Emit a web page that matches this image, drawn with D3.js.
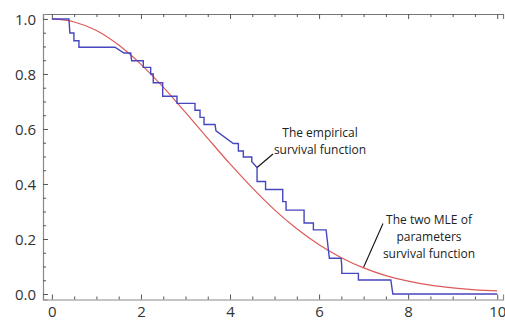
<!DOCTYPE html>
<html>
<head>
<meta charset="utf-8">
<script src="https://cdn.jsdelivr.net/npm/d3@7"></script>
<style>
  html, body { margin: 0; padding: 0; background: #fff; }
  svg { display: block; }
  text { font-family: "Open Sans", sans-serif; }
</style>
</head>
<body>
<svg id="chart" width="505" height="322"></svg>
<script>
// Empirical survival function (polyline vertices)
const empTime = [0, 0.382, 0.404, 0.494, 0.494, 0.607, 0.607, 1.416, 1.618, 1.769, 1.791, 2.052, 2.052, 2.218, 2.218, 2.276, 2.276, 2.488, 2.488, 2.809, 2.809, 3.213, 3.213, 3.326, 3.326, 3.416, 3.416, 3.663, 3.685, 4.074, 4.187, 4.187, 4.299, 4.299, 4.488, 4.488, 4.607, 4.607, 4.798, 4.798, 5.184, 5.184, 5.258, 5.258, 5.663, 5.663, 5.872, 5.872, 6.157, 6.231, 6.494, 6.510, 6.510, 6.883, 6.883, 7.611, 7.656, 10.0];
const empSurv = [1.0, 1.0, 0.949, 0.949, 0.921, 0.921, 0.897, 0.897, 0.876, 0.876, 0.848, 0.848, 0.824, 0.824, 0.800, 0.800, 0.768, 0.768, 0.719, 0.719, 0.693, 0.693, 0.668, 0.668, 0.642, 0.642, 0.616, 0.616, 0.593, 0.547, 0.547, 0.520, 0.520, 0.498, 0.498, 0.481, 0.460, 0.409, 0.409, 0.380, 0.380, 0.336, 0.336, 0.305, 0.305, 0.258, 0.258, 0.233, 0.233, 0.130, 0.130, 0.099, 0.075, 0.075, 0.051, 0.051, 0.0, 0.0];

// Fitted (two-parameter MLE) survival function, read at half-unit steps
const fitTime = [0, 0.5, 1, 1.5, 2, 2.5, 3, 3.5, 4, 4.5, 5, 5.5, 6, 6.5, 7, 7.5, 8, 8.5, 9, 9.5, 10];
const fitSurv = [1.0, 0.989, 0.958, 0.905, 0.835, 0.752, 0.660, 0.566, 0.473, 0.386, 0.306, 0.237, 0.179, 0.132, 0.095, 0.067, 0.047, 0.032, 0.022, 0.015, 0.011];

// Axis ticks
const xMajor = [0, 2, 4, 6, 8, 10];
const xMinor = [0.5, 1, 1.5, 2.5, 3, 3.5, 4.5, 5, 5.5, 6.5, 7, 7.5, 8.5, 9, 9.5];
const yMajor = [0, 0.2, 0.4, 0.6, 0.8, 1.0];
const yMinor = [0.05, 0.1, 0.15, 0.25, 0.3, 0.35, 0.45, 0.5, 0.55, 0.65, 0.7, 0.75, 0.85, 0.9, 0.95];

// Plot range (with padding like the original)
const xRange = [-0.2, 10.13];
const yRange = [-0.02, 1.018];

// Annotations
const annEmp = { lines: ["The empirical", "survival function"], t: 4.607, s: 0.46 };
const annFit = { lines: ["The two MLE of", "parameters", "survival function"], t: 7.0, s: 0.097 };

const svg = d3.select("#chart");
const x = d3.scaleLinear().domain(xRange).range([43, 503]);
const y = d3.scaleLinear().domain(yRange).range([299.5, 14]);

const axisColor = "#8a8a8a";
const labelColor = "#333";

// bottom axis
const gx = svg.append("g").attr("transform", `translate(0,${y(yRange[0])})`);
gx.call(d3.axisBottom(x).tickValues(xMajor).tickSize(-5).tickPadding(7).tickFormat(d3.format("d")));
const gxm = svg.append("g").attr("transform", `translate(0,${y(yRange[0])})`);
gxm.call(d3.axisBottom(x).tickValues(xMinor).tickSize(-3).tickFormat(""));
gxm.select(".domain").remove();

// top frame
const gt = svg.append("g").attr("transform", `translate(0,${y(yRange[1])})`);
gt.call(d3.axisTop(x).tickValues(xMajor).tickSize(-5).tickFormat(""));
const gtm = svg.append("g").attr("transform", `translate(0,${y(yRange[1])})`);
gtm.call(d3.axisTop(x).tickValues(xMinor).tickSize(-3).tickFormat(""));
gtm.select(".domain").remove();

// left axis
const gy = svg.append("g").attr("transform", `translate(${x(xRange[0])},0)`);
gy.call(d3.axisLeft(y).tickValues(yMajor).tickSize(-5).tickPadding(7).tickFormat(d3.format(".1f")));
const gym = svg.append("g").attr("transform", `translate(${x(xRange[0])},0)`);
gym.call(d3.axisLeft(y).tickValues(yMinor).tickSize(-3).tickFormat(""));
gym.select(".domain").remove();

svg.selectAll(".domain").attr("stroke", axisColor).attr("stroke-width", 1.2);
svg.selectAll(".tick line").attr("stroke", "#555").attr("stroke-width", 1);
svg.selectAll(".tick text").attr("fill", labelColor).style("font-size", "15px").style("font-family", "'Open Sans', sans-serif");
gt.select(".domain").attr("stroke", "#777");
gy.selectAll(".tick text").attr("dy", "0.36em");

// fitted curve
const fitLine = d3.line().x((d, i) => x(fitTime[i])).y((d, i) => y(fitSurv[i])).curve(d3.curveMonotoneX);
svg.append("path").datum(fitSurv).attr("d", fitLine)
  .attr("fill", "none").attr("stroke", "#dc5a5a").attr("stroke-width", 1.2);

// empirical curve
const empLine = d3.line().x((d, i) => x(empTime[i])).y((d, i) => y(empSurv[i]));
svg.append("path").datum(empSurv).attr("d", empLine)
  .attr("fill", "none").attr("stroke", "#4646c0").attr("stroke-width", 1.4)
  .attr("stroke-linejoin", "miter");

// annotations
function annotate(a, tx, ty, lx, ly, lh) {
  svg.append("line")
    .attr("x1", x(a.t)).attr("y1", y(a.s))
    .attr("x2", lx).attr("y2", ly)
    .attr("stroke", "#111").attr("stroke-width", 1.1);
  const t = svg.append("text").attr("text-anchor", "middle").attr("fill", "#222")
    .style("font-size", "12px");
  a.lines.forEach((s, i) => {
    t.append("tspan").attr("x", tx).attr("y", ty + i * lh).text(s);
  });
}
annotate(annEmp, 320, 137, 273, 154, 16.5);
annotate(annFit, 429, 223.5, 383, 223.5, 17);
</script>
</body>
</html>
